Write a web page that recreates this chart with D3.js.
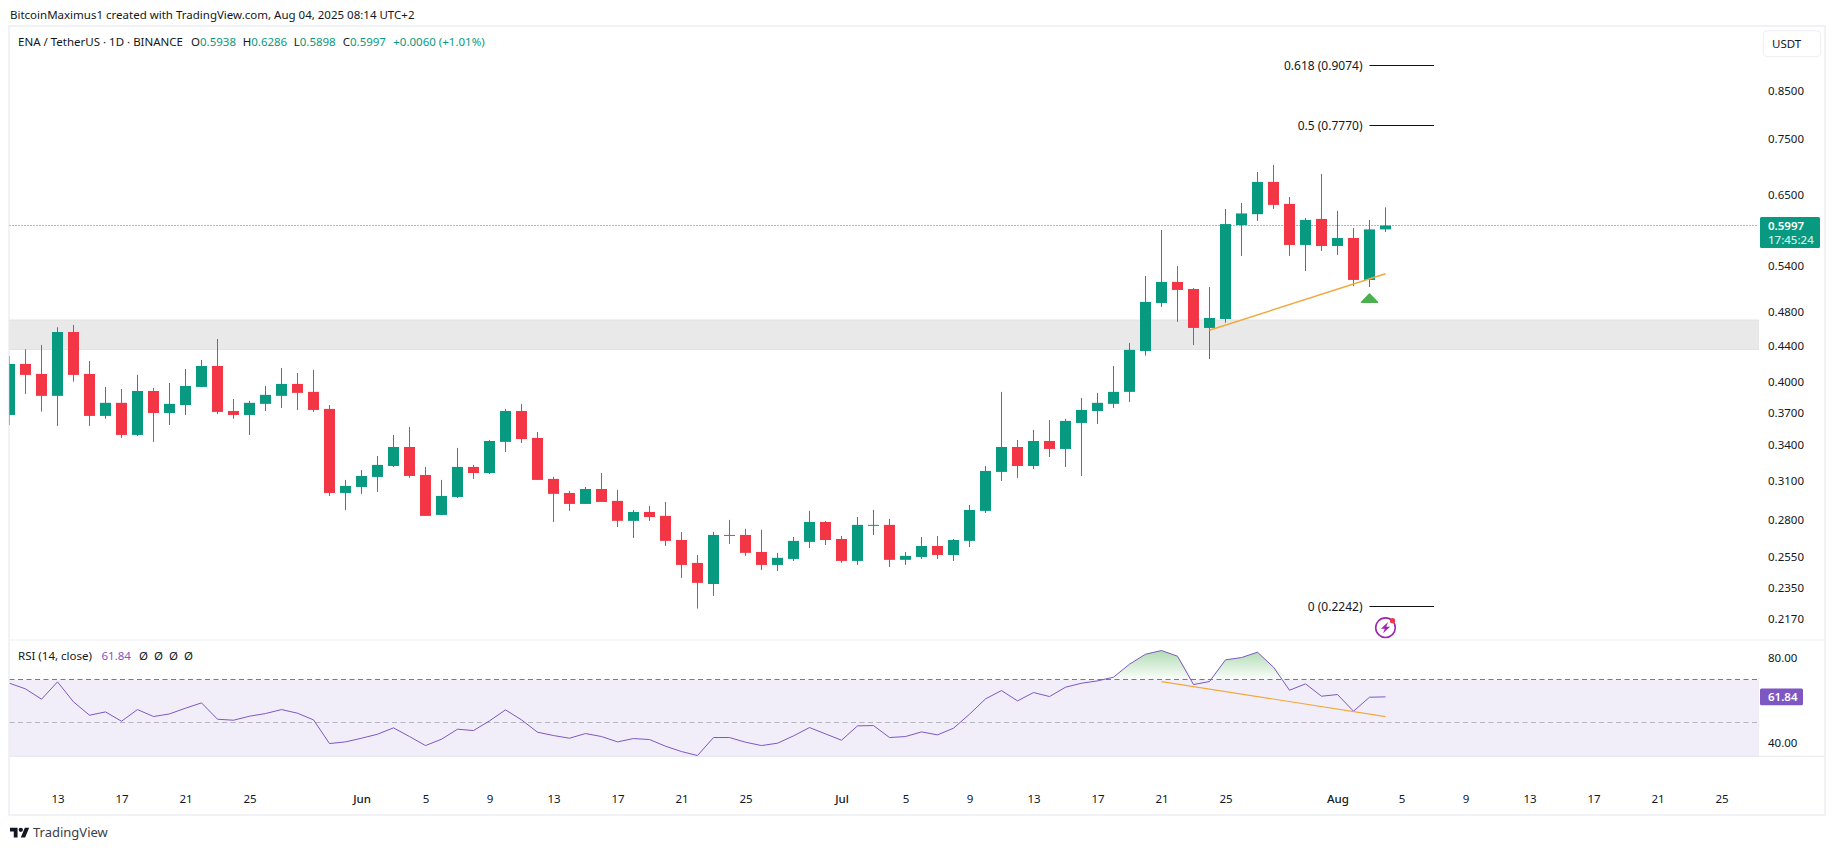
<!DOCTYPE html>
<html>
<head>
<meta charset="utf-8">
<script src="https://cdn.jsdelivr.net/npm/d3@7"></script>
<style>
  html, body { margin: 0; padding: 0; background: #fff; }
  svg { display: block; }
  text { font-family: "Noto Sans", sans-serif; font-size: 11.5px; fill: #131722; }
</style>
</head>
<body>
<svg id="chart" width="1835" height="850"></svg>
<script>
// ENA / USDT daily candles, starting 10 May 2025
const firstDay = Date.UTC(2025, 4, 10);

const opens = [.3676,.4194,.4087,.3862,.4555,.4087,.3667,.3793,.3491,.3911,.3695,.3772,.3952,.4172,.3714,.3676,.3783,.3862,.3983,.3902,.3734,.3005,
  .3052,.3132,.3222,.3384,.3148,.2839,.2974,.3214,.3164,.3429,.3714,.3464,.3116,.3005,.2921,.3036,.2944,.2796,.2861,.2832,.2661,.2508,.2375,.2696,.2696,.2580,.2495,.2534,.2648,.2788,
  .2668,.2521,.2760,.2767,.2528,.2547,.2620,.2560,.2655,.2869,.3173,.3384,.3222,.3437,.3367,.3601,.3714,.3783,.3902,.4337,.4910,.5184,.5090,.4603,.4711,.6005,.6176,.6713,.6342,.5704,.6101,
  .5689,.5807,.5211,.5938];
const highs = [.4282,.4356,.4405,.4611,.4639,.4227,.3952,.3931,.4077,.3942,.3993,.4140,.4238,.4473,.3831,.3812,.3962,.4151,.4097,.4130,.3772,.3108,
  .3189,.3306,.3491,.3564,.3214,.3108,.3376,.3231,.3446,.3734,.3783,.3518,.3132,.3021,.3052,.3164,.3029,.2876,.2906,.2936,.2717,.2560,.2717,.2803,.2739,.2732,.2574,.2682,.2869,.2796,
  .2689,.2824,.2876,.2810,.2580,.2682,.2689,.2668,.2913,.3222,.3902,.3446,.3537,.3629,.3639,.3840,.3892,.4172,.4428,.5265,.5929,.5402,.5102,.5115,.6261,.6358,.6888,.7014,.6457,.6116,.6853,
  .6229,.5961,.6085,.6286];
const lows = [.3582,.3882,.3708,.3574,.4007,.3574,.3639,.3464,.3482,.3429,.3582,.3676,.3952,.3685,.3639,.3491,.3714,.3743,.3724,.3705,.2982,.2876,
  .2998,.3013,.3214,.3124,.2832,.2839,.2966,.3116,.3156,.3341,.3419,.3108,.2788,.2869,.2921,.2936,.2752,.2675,.2796,.2620,.2413,.2229,.2303,.2634,.2554,.2463,.2456,.2521,.2606,.2627,
  .2508,.2495,.2696,.2482,.2495,.2534,.2534,.2521,.2613,.2854,.3100,.3124,.3197,.3298,.3214,.3140,.3592,.3743,.3802,.4285,.4860,.4676,.4405,.4248,.4665,.5545,.6069,.6261,.5545,.5333,.5616,
  .5559,.5127,.5115,.5898];
const closes = [.4194,.4077,.3862,.4555,.4077,.3667,.3793,.3491,.3911,.3695,.3783,.3962,.4172,.3705,.3676,.3793,.3872,.3983,.3892,.3724,.3005,.3060,
  .3140,.3231,.3384,.3140,.2832,.2982,.3214,.3164,.3437,.3714,.3454,.3108,.2998,.2921,.3036,.2936,.2796,.2861,.2824,.2655,.2495,.2382,.2696,.2689,.2574,.2495,.2541,.2655,.2788,.2661,
  .2521,.2767,.2767,.2528,.2554,.2620,.2560,.2661,.2876,.3181,.3384,.3222,.3437,.3367,.3620,.3724,.3793,.3902,.4349,.4923,.5184,.5078,.4603,.4723,.6020,.6188,.6713,.6326,.5704,.6085,.5689,
  .5807,.5211,.5938,.5997];

// RSI(14) on the same days
const rsiValues = [68.27,65.61,60.75,68.90,59.49,53.22,54.78,50.39,55.88,52.59,53.84,56.51,59.02,51.33,50.86,52.75,54.00,55.88,54.16,51.02,39.88,40.67,
  42.39,44.27,47.26,43.18,38.94,41.92,46.63,46.00,50.55,55.73,51.02,45.22,43.65,42.39,44.59,43.18,40.67,42.24,41.77,38.63,36.12,34.24,42.71,42.71,40.51,38.94,40.04,43.49,47.41,44.43,
  41.45,48.20,48.35,42.71,43.18,45.37,43.96,47.10,53.69,60.90,64.82,59.96,63.88,62.00,66.39,68.27,69.37,71.10,77.22,81.92,83.65,80.98,67.65,69.06,79.26,80.35,82.87,75.80,64.98,67.96,62.16,
  62.94,55.10,61.69,61.84];

const priceTicks = [0.85,0.75,0.65,0.54,0.48,0.44,0.40,0.37,0.34,0.31,0.28,0.255,0.235,0.217];
const rsiTicks = [80,40];
const dateTicks = [[4,13],[4,17],[4,21],[4,25],[5,1],[5,5],[5,9],[5,13],[5,17],[5,21],[5,25],[6,1],[6,5],[6,9],[6,13],[6,17],[6,21],[6,25],[7,1],[7,5],[7,9],[7,13],[7,17],[7,21],[7,25]]
  .map(([m, d]) => new Date(Date.UTC(2025, m, d)));
const fibLevels = [["0.618 (0.9074)",0.9074],["0.5 (0.7770)",0.7770],["0 (0.2242)",0.2242]];
const zoneTop = 0.4698, zoneBottom = 0.4353;
const lastPrice = 0.5997;
const lastRsi = 61.84;

const UP = "#089981", DOWN = "#f23645", RSI_COLOR = "#7e57c2", TREND = "#f2a93b", GRID = "#eceef2";
const PANE = {left: 9.5, right: 1759, top: 26, mainBottom: 640, rsiBottom: 756.3};
const crisp = v => Math.round(v - 0.5) + 0.5;

const days = closes.map((_, i) => new Date(firstDay + i * 864e5));
const day = (m, d) => new Date(Date.UTC(2025, m, d));

const x = d3.scaleUtc().domain([day(4, 13), day(7, 25)]).range([57.5, 1721.5]);
const y = d3.scaleLog().domain([0.9074, 0.2242]).range([65.3, 606.3]);
const r = d3.scaleLinear().domain([80, 40]).range([658.3, 743.3]);

const svg = d3.select("#chart");
const defs = svg.append("defs");
defs.append("clipPath").attr("id", "mainClip").append("rect")
  .attr("x", PANE.left).attr("y", PANE.top).attr("width", PANE.right - PANE.left).attr("height", PANE.mainBottom - PANE.top);
defs.append("clipPath").attr("id", "rsiClip").append("rect")
  .attr("x", PANE.left).attr("y", PANE.mainBottom).attr("width", PANE.right - PANE.left).attr("height", PANE.rsiBottom - PANE.mainBottom);
defs.append("clipPath").attr("id", "overbought").append("rect")
  .attr("x", PANE.left).attr("y", PANE.mainBottom).attr("width", PANE.right - PANE.left).attr("height", r(70) - PANE.mainBottom);
const grad = defs.append("linearGradient").attr("id", "obFill").attr("gradientUnits", "userSpaceOnUse")
  .attr("x1", 0).attr("x2", 0).attr("y1", r(84)).attr("y2", r(70));
grad.append("stop").attr("offset", 0).attr("stop-color", "#4caf50").attr("stop-opacity", 0.45);
grad.append("stop").attr("offset", 1).attr("stop-color", "#4caf50").attr("stop-opacity", 0.02);

// Header above the frame
svg.append("text").attr("x", 10).attr("y", 19).text("BitcoinMaximus1 created with TradingView.com, Aug 04, 2025 08:14 UTC+2");

// Frame and pane separators
svg.append("rect").attr("x", 9).attr("y", 26).attr("width", 1816).attr("height", 789)
  .attr("fill", "none").attr("stroke", GRID).attr("stroke-width", 1.5);
[PANE.mainBottom, PANE.rsiBottom].forEach(v => svg.append("line")
  .attr("x1", 9).attr("x2", 1825).attr("y1", v).attr("y2", v).attr("stroke", GRID).attr("stroke-width", 1.2));

// Price pane
const main = svg.append("g").attr("clip-path", "url(#mainClip)");

main.append("rect").attr("x", PANE.left).attr("width", PANE.right - PANE.left)
  .attr("y", y(zoneTop)).attr("height", y(zoneBottom) - y(zoneTop))
  .attr("fill", "#e9e9e9").attr("stroke", "#e2e2e2");

main.append("line").attr("x1", PANE.left).attr("x2", PANE.right - 2)
  .attr("y1", crisp(y(lastPrice))).attr("y2", crisp(y(lastPrice)))
  .attr("stroke", UP).attr("stroke-width", 1).attr("stroke-dasharray", "1 2");

const candles = main.selectAll("g.candle").data(days).join("g").attr("class", "candle")
  .attr("fill", (_, i) => closes[i] >= opens[i] ? UP : DOWN);
candles.append("rect").attr("x", d => x(d) - 0.5).attr("width", 1)
  .attr("y", (_, i) => y(highs[i])).attr("height", (_, i) => y(lows[i]) - y(highs[i]));
candles.append("rect").attr("x", d => x(d) - 5.5).attr("width", 11)
  .attr("y", (_, i) => y(Math.max(opens[i], closes[i])))
  .attr("height", (_, i) => Math.max(1, y(Math.min(opens[i], closes[i])) - y(Math.max(opens[i], closes[i]))));

// Rising support line under the pullback
const supportFrom = [day(6, 24), 0.4575], supportTo = [day(7, 4), 0.5296];
main.append("line").attr("x1", x(supportFrom[0])).attr("y1", y(supportFrom[1]))
  .attr("x2", x(supportTo[0])).attr("y2", y(supportTo[1]))
  .attr("stroke", TREND).attr("stroke-width", 1.5);

// Buy signal under the 3 Aug candle
const signalPrice = 0.5038;
const sx = x(day(7, 3)), sy = y(signalPrice);
main.append("path").attr("fill", "#4caf50").attr("stroke", "#4caf50").attr("stroke-width", 1.5).attr("stroke-linejoin", "round")
  .attr("d", `M${sx},${sy + 1}L${sx + 8},${sy + 9.2}L${sx - 8},${sy + 9.2}Z`);

// Fibonacci levels
fibLevels.forEach(([label, v]) => {
  main.append("line").attr("x1", 1369.5).attr("x2", 1434).attr("y1", crisp(y(v))).attr("y2", crisp(y(v)))
    .attr("stroke", "#111").attr("stroke-width", 1);
  svg.append("text").attr("x", 1362.5).attr("y", y(v)).attr("dy", "0.35em").attr("text-anchor", "end")
    .style("font-size", "12px").text(label);
});

// Event marker above the RSI pane
const ev = svg.append("g").attr("transform", `translate(${x(day(7, 4))},${627.7})`);
ev.append("circle").attr("r", 9.8).attr("fill", "#fff").attr("stroke", "#9c27b0").attr("stroke-width", 1.6);
ev.append("path").attr("fill", "#9c27b0").attr("d", "M2.6,-5.6L-4.6,1L-0.8,1L-2.4,5.6L4.6,-1L0.8,-1Z");
ev.append("circle").attr("cx", 7).attr("cy", -7).attr("r", 2.6).attr("fill", DOWN);

// Legend of the price pane
const legend = svg.append("text").attr("y", 41.7).attr("dy", "0.35em");
legend.append("tspan").attr("x", 18).text("ENA / TetherUS · 1D · BINANCE");
[[191, "O", opens], [242.7, "H", highs], [293.7, "L", lows], [342.7, "C", closes]].forEach(([px, k, arr]) => {
  legend.append("tspan").attr("x", px).text(k);
  legend.append("tspan").style("fill", UP).text(arr[arr.length - 1].toFixed(4));
});
legend.append("tspan").attr("x", 393.3).style("fill", UP).text("+0.0060 (+1.01%)");

// Price axis
const priceAxis = d3.axisRight(y).tickValues(priceTicks).tickFormat(d3.format(".4f")).tickSize(0).tickPadding(0);
const pa = svg.append("g").attr("transform", "translate(1768,0)").call(priceAxis);
pa.select(".domain").remove();
pa.selectAll("text").attr("font-size", null).attr("font-family", null);

svg.append("rect").attr("x", 1763.3).attr("y", 30.7).attr("width", 57.4).attr("height", 26).attr("rx", 4)
  .attr("fill", "#fff").attr("stroke", "#eceef2");
svg.append("text").attr("x", 1772).attr("y", 44).attr("dy", "0.35em").text("USDT");

const badge = svg.append("g");
badge.append("rect").attr("x", 1760).attr("y", y(lastPrice) - 8.5).attr("width", 60).attr("height", 31).attr("rx", 1.5).attr("fill", UP);
badge.append("text").attr("x", 1768).attr("y", y(lastPrice)).attr("dy", "0.35em").style("fill", "#fff").style("font-weight", 600).text(lastPrice.toFixed(4));
badge.append("text").attr("x", 1768).attr("y", y(lastPrice) + 14.5).attr("dy", "0.35em").style("fill", "#cfeee7").style("font-weight", 500).text("17:45:24");

// RSI pane
const rsiPane = svg.append("g").attr("clip-path", "url(#rsiClip)");
rsiPane.append("rect").attr("x", PANE.left).attr("width", PANE.right - PANE.left)
  .attr("y", r(70)).attr("height", r(30) - r(70)).attr("fill", RSI_COLOR).attr("fill-opacity", 0.1);

const rsiX = (_, i) => x(days[i]);
rsiPane.append("path").datum(rsiValues).attr("clip-path", "url(#overbought)").attr("fill", "url(#obFill)")
  .attr("d", d3.area().x(rsiX).y0(r(70)).y1(d => r(Math.max(d, 70))));

rsiPane.append("line").attr("x1", PANE.left).attr("x2", PANE.right).attr("y1", crisp(r(70))).attr("y2", crisp(r(70)))
  .attr("stroke", "#787b86").attr("stroke-dasharray", "5 3.5");
rsiPane.append("line").attr("x1", PANE.left).attr("x2", PANE.right).attr("y1", crisp(r(50))).attr("y2", crisp(r(50)))
  .attr("stroke", "#787b86").attr("stroke-opacity", 0.5).attr("stroke-dasharray", "5 3.5");

rsiPane.append("path").datum(rsiValues).attr("fill", "none").attr("stroke", RSI_COLOR).attr("stroke-width", 1)
  .attr("d", d3.line().x(rsiX).y(d => r(d)));

// Falling divergence line on the RSI
const divFrom = [day(6, 21), 69.06], divTo = [day(7, 4), 52.59];
rsiPane.append("line").attr("x1", x(divFrom[0])).attr("y1", r(divFrom[1]))
  .attr("x2", x(divTo[0])).attr("y2", r(divTo[1])).attr("stroke", TREND).attr("stroke-width", 1.2);

const rsiLegend = svg.append("text").attr("y", 656).attr("dy", "0.35em");
rsiLegend.append("tspan").attr("x", 18).text("RSI (14, close)");
rsiLegend.append("tspan").attr("x", 101.5).style("fill", RSI_COLOR).text(lastRsi.toFixed(2));
[139, 154, 169, 184].forEach(px => rsiLegend.append("tspan").attr("x", px).text("Ø"));

const rsiAxis = d3.axisRight(r).tickValues(rsiTicks).tickFormat(d3.format(".2f")).tickSize(0).tickPadding(0);
const ra = svg.append("g").attr("transform", "translate(1768,0)").call(rsiAxis);
ra.select(".domain").remove();
ra.selectAll("text").attr("font-size", null).attr("font-family", null);

svg.append("rect").attr("x", 1760).attr("y", r(lastRsi) - 8.3).attr("width", 43).attr("height", 16.7).attr("rx", 1.5).attr("fill", RSI_COLOR);
svg.append("text").attr("x", 1768).attr("y", r(lastRsi)).attr("dy", "0.35em").style("fill", "#fff").style("font-weight", 600).text(lastRsi.toFixed(2));

// Time axis
const isMonthStart = d => d.getUTCDate() === 1;
const timeAxis = d3.axisBottom(x).tickValues(dateTicks).tickSize(0).tickPadding(0)
  .tickFormat(d => isMonthStart(d) ? d3.utcFormat("%b")(d) : d.getUTCDate());
const ta = svg.append("g").attr("transform", "translate(0,795)").call(timeAxis);
ta.select(".domain").remove();
ta.selectAll("text").attr("font-size", null).attr("font-family", null)
  .style("font-weight", d => isMonthStart(d) ? 500 : 400);

// Wordmark below the frame
const logo = svg.append("g").attr("transform", "translate(10,825.5) scale(0.54)");
logo.append("path").attr("fill", "#131722").attr("d", "M14 22H7V11H0V4h14v18zM28 22h-8l7.5-18h8L28 22z");
logo.append("circle").attr("cx", 20).attr("cy", 8).attr("r", 4).attr("fill", "#131722");
svg.append("text").attr("x", 33).attr("y", 832).attr("dy", "0.35em").style("font-size", "13px").style("fill", "#3a3e4a").text("TradingView");
</script>
</body>
</html>
